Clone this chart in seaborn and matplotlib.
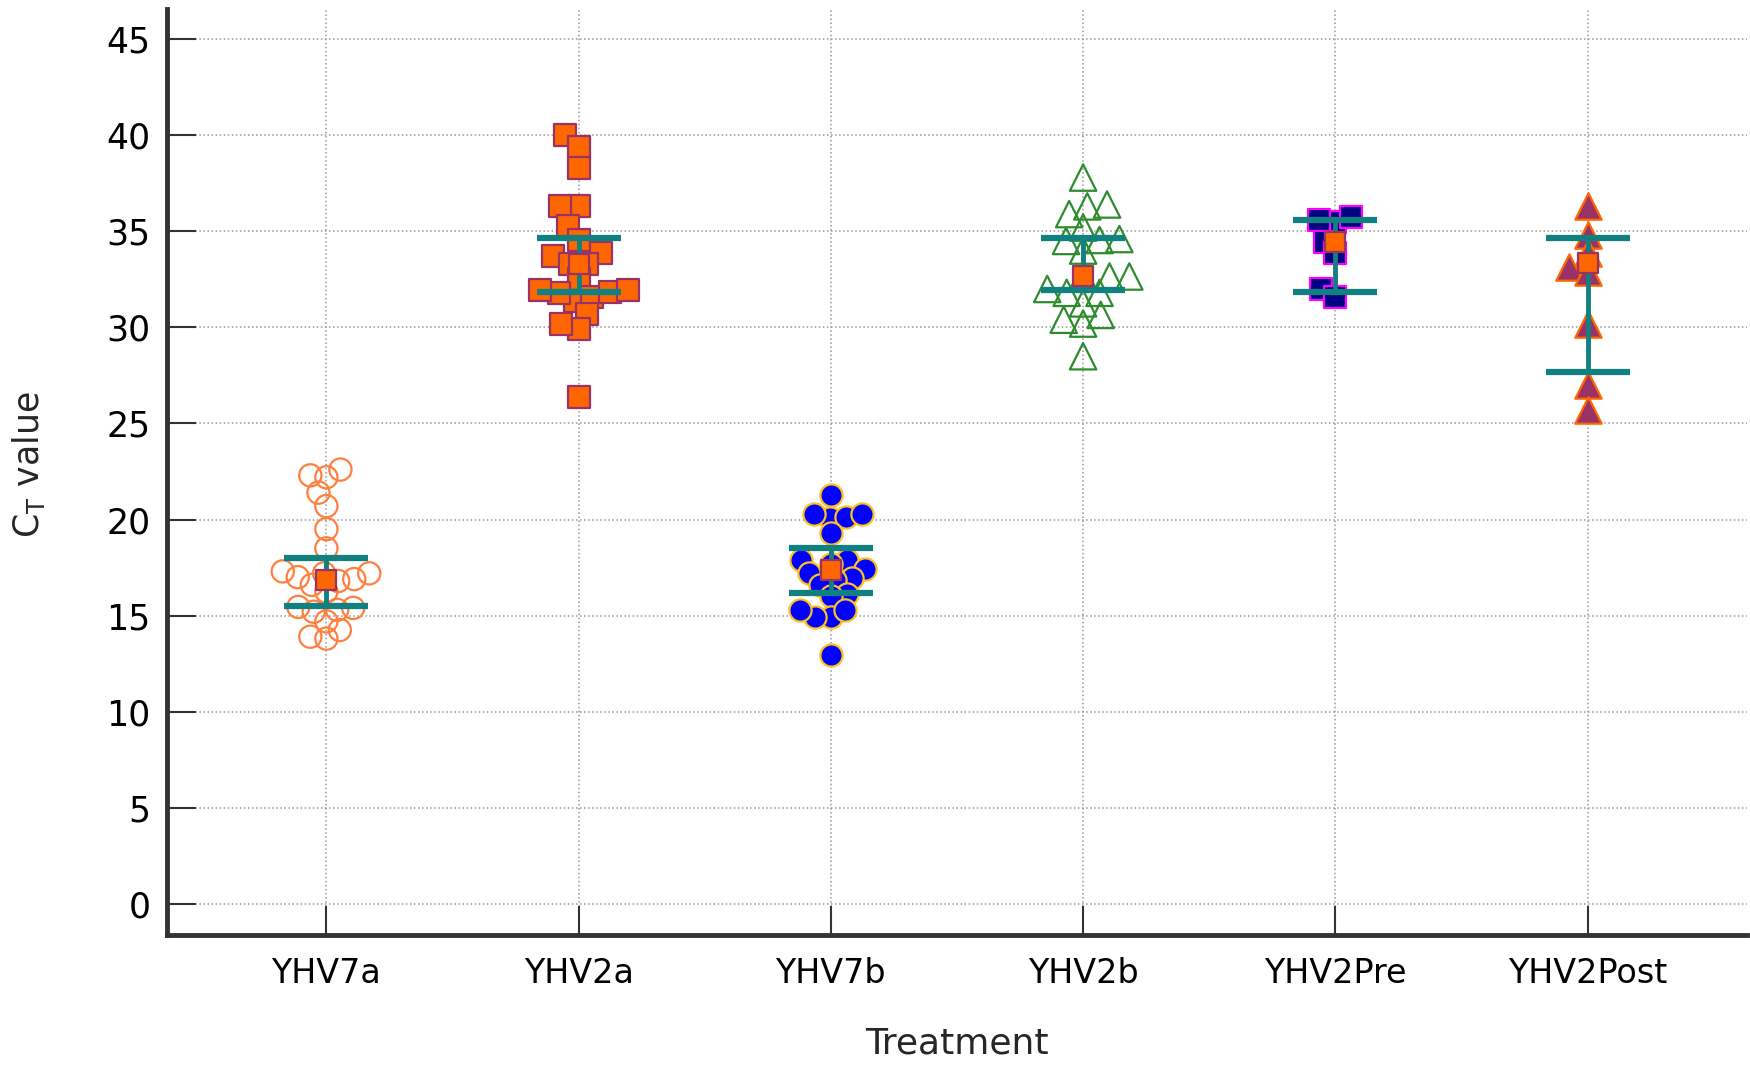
import matplotlib
matplotlib.use("Agg")
import matplotlib.pyplot as plt
import seaborn as sns
import pandas as pd
import numpy as np

sns.set_theme(style="white")
plt.rcParams['font.family'] = ['DejaVu Sans']

# Categorias do eixo x
categorias = ["YHV7a", "YHV2a", "YHV7b", "YHV2b", "YHV2Pre", "YHV2Post"]

# Valores de CT
ct_yhv7a = [22.2, 22.3, 22.6, 21.4, 20.7, 19.5, 18.5, 17.2, 17.0, 17.2, 17.3, 16.8,
            16.9, 16.6, 16.25, 15.45, 15.3, 15.4, 15.2, 14.7, 14.25, 13.8, 13.9]
ct_yhv2a = [40.0, 39.4, 38.3, 36.3, 36.3, 35.3, 34.55, 33.9, 33.7, 33.3, 33.3, 32.5,
            31.35, 31.6, 31.8, 31.85, 31.95, 31.95, 30.7, 29.9, 30.2, 26.4]
ct_yhv7b = [21.3, 20.1, 20.15, 20.3, 20.3, 19.3, 17.9, 17.9, 17.7, 17.4, 17.2, 16.95,
            16.85, 16.6, 16.1, 16.0, 14.95, 14.95, 15.3, 15.3, 12.95]
ct_yhv2b = [37.8, 36.3, 36.4, 35.9, 35.2, 34.55, 34.6, 34.0, 34.5, 32.65, 32.65, 32.65,
            32.0, 31.25, 31.8, 31.8, 30.2, 30.4, 30.65, 28.5]
ct_yhv2pre = [35.5, 35.6, 35.75, 34.45, 33.85, 32.0, 31.6]
ct_yhv2post = [36.3, 34.8, 33.85, 33.15, 32.9, 30.2, 27.0, 25.7]

# Media e barras (limite inferior e superior)
medias = [16.86, 33.3, 17.38, 32.67, 34.46, 33.33]
barra_inf = [15.5, 31.86, 16.2, 31.95, 31.86, 27.66]
barra_sup = [17.98, 34.67, 18.5, 34.63, 35.59, 34.63]

grupos = [ct_yhv7a, ct_yhv2a, ct_yhv7b, ct_yhv2b, ct_yhv2pre, ct_yhv2post]

# Estilo de cada grupo: marcador, preenchimento, borda, tamanho no arranjo, tamanho final
estilos = [
    ("o", "none", "#FF7F3F", 9.5, 16),
    ("s", "#FF6600", "#993366", 11, 16),
    ("o", "#0000FF", "#FFC020", 9.5, 16),
    ("^", "none", "#2E8B2E", 12, 19),
    ("s", "#000080", "#FF00FF", 9.5, 16),
    ("^", "#993366", "#FF6600", 11.5, 19),
]

fig, ax = plt.subplots(figsize=(17.5, 10.65), dpi=100)
fig.subplots_adjust(left=0.0957, right=0.998, bottom=0.122, top=0.992)

colecoes = []
for cat, vals, (mk, fc, ec, sz, sz_final) in zip(categorias, grupos, estilos):
    sub = pd.DataFrame({"Treatment": cat, "CT": vals})
    n_antes = len(ax.collections)
    sns.swarmplot(data=sub, x="Treatment", y="CT", order=categorias, marker=mk,
                  size=sz, color="white" if fc == "none" else fc, edgecolor=ec,
                  linewidth=1.6, ax=ax, zorder=3, warn_thresh=1)
    for pts in ax.collections[n_antes:]:
        if len(pts.get_offsets()) == 0:
            continue
        pts.set_facecolor(fc)
        pts.set_edgecolor(ec)
        colecoes.append((pts, sz_final))

ax.set_xlim(-0.63, 5.63)
ax.set_ylim(-1.63, 46.6)
ax.set_yticks(range(0, 46, 5))

# Fixa o arranjo do swarm e aumenta os marcadores (sobreposicao como no original)
fig.canvas.draw()
for pts, sz_final in colecoes:
    pts.__dict__.pop("draw", None)
    pts.set_sizes([sz_final ** 2])

# Barras e media
pos = np.arange(len(categorias))
ax.errorbar(pos, medias,
            yerr=[np.array(medias) - np.array(barra_inf), np.array(barra_sup) - np.array(medias)],
            fmt="none", ecolor="#108080", elinewidth=3.5, capsize=30, capthick=4.5, zorder=4)
ax.scatter(pos, medias, marker="s", s=14 ** 2, color="#FF6600", edgecolor="#993366",
           linewidth=1.6, zorder=5)

ax.grid(True, linestyle=":", color="#999999", linewidth=1.1)
ax.set_axisbelow(True)

for lado in ["top", "right"]:
    ax.spines[lado].set_visible(False)
for lado in ["left", "bottom"]:
    ax.spines[lado].set_linewidth(3.5)
    ax.spines[lado].set_color("#333333")

ax.tick_params(axis="both", direction="in", length=21, width=1.5, color="#333333",
               labelcolor="black")
ax.tick_params(axis="y", labelsize=25, pad=12, left=True)
ax.tick_params(axis="x", labelsize=24, pad=16, bottom=True)

ax.set_xlabel("Treatment", fontsize=26, labelpad=26)
ax.set_ylabel(r"C$_\mathregular{T}$ value", fontsize=25)
ax.yaxis.set_label_coords(-0.076, 0.508)

fig.savefig("out.png", dpi=100)
